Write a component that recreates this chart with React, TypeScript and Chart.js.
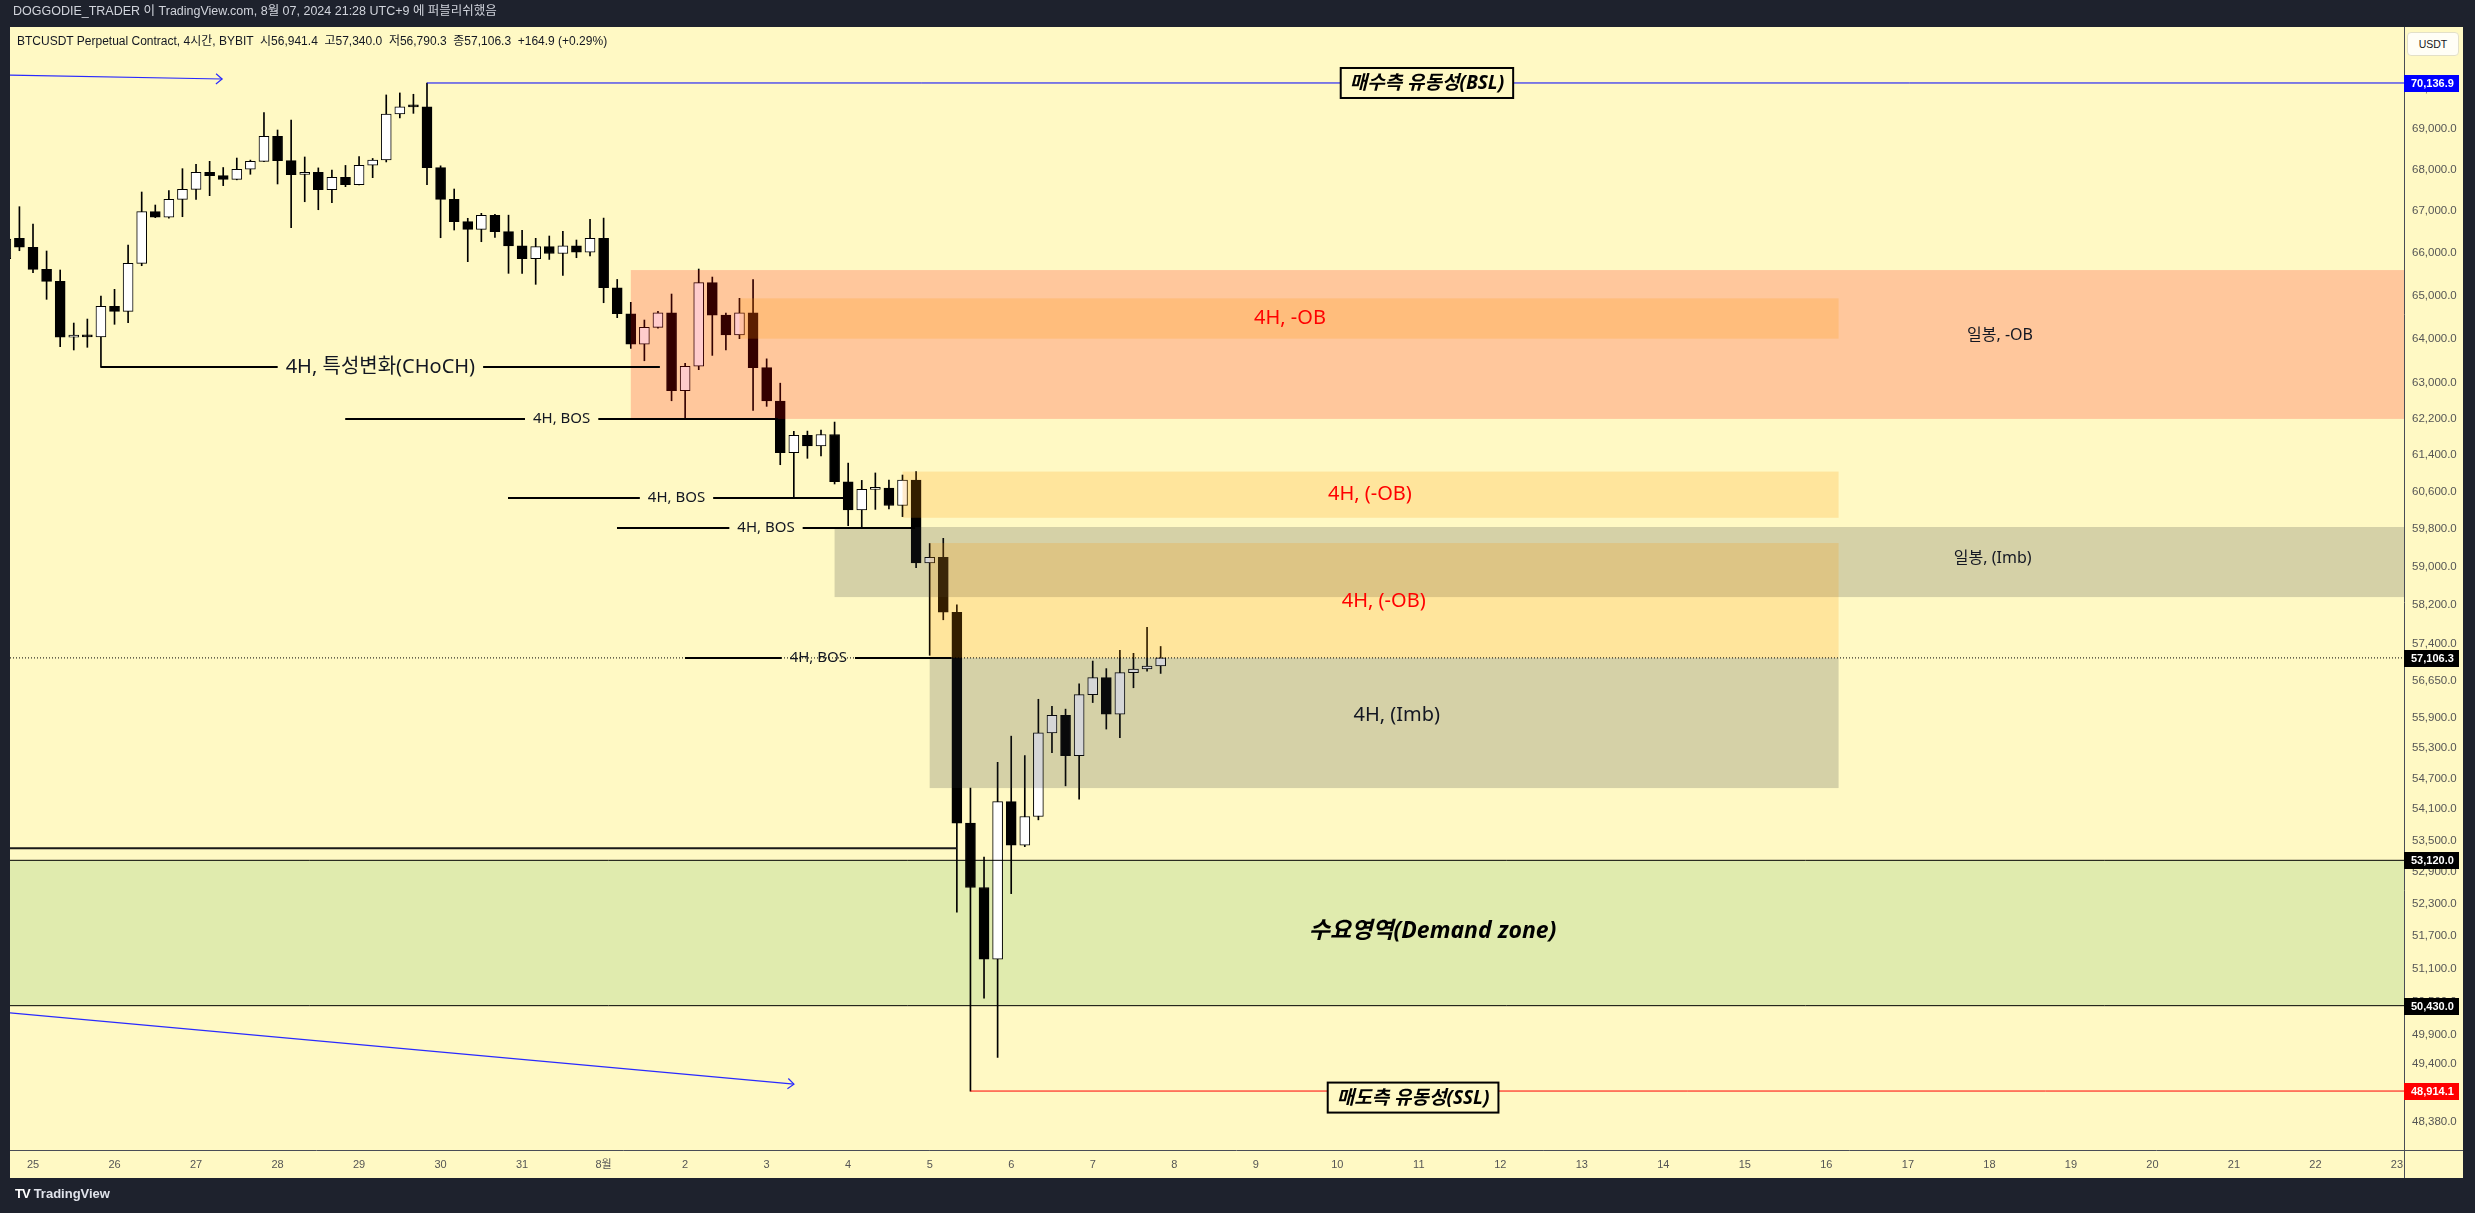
import React, { useEffect, useRef } from "react";
import { Chart, registerables } from "chart.js";

Chart.register(...registerables);

// ---------------- data ----------------
// time axis: days since 25 Jul 2024 00:00 (UTC+9); 4h candles, first one 24 Jul 16:00
const candleStartDay = -2 / 6;
const candleStepDay = 4 / 24;

const opens = [
  65870, 66348, 66136, 65617, 65336, 64042, 64090, 64050, 64755, 64639,
  65758, 66983, 66849, 67280, 67521, 67934, 67851, 67763, 68006, 68200,
  68813, 68216, 67880, 67930, 67512, 67811, 67632, 68104, 68233, 69364,
  69565, 69540, 68045, 67280, 66744, 66562, 66896, 66506, 66170, 65867,
  66153, 65990, 66170, 66020, 66348, 65186, 64584, 63882, 64271, 64607,
  62830, 63382, 65306, 64553, 64095, 64607, 63350, 62600, 61455, 61835,
  61605, 61855, 60818, 60210, 60652, 60680, 60305, 60855, 59080, 59195,
  58046, 53830, 52607, 51276, 54246, 53409, 53958, 55597, 55945, 55145,
  56361, 56705, 55969, 56806, 56880, 56941.4,
];
const highs = [
  66400, 67103, 66689, 66048, 65601, 64369, 64461, 64994, 65150, 66190,
  67456, 67143, 67488, 68021, 68128, 68200, 68049, 68280, 68230, 69396,
  68968, 69215, 68306, 68040, 67988, 68100, 68314, 68270, 69838, 69888,
  69855, 70136.9, 68090, 67528, 66825, 66944, 66920, 66900, 66539, 66348,
  66403, 66515, 66308, 66800, 66830, 65380, 64848, 64438, 64637, 65040,
  63450, 65624, 65436, 64600, 64940, 65376, 63550, 63000, 61925, 61930,
  61955, 62130, 61225, 60848, 61010, 60855, 60965, 61040, 59490, 59600,
  58200, 54510, 53180, 55015, 55531, 55147, 56268, 56127, 56070, 56579,
  57042, 56888, 57263, 57200, 57732, 57340,
];
const lows = [
  65800, 66055, 65538, 64917, 63827, 63752, 63813, 63358, 64340, 64376,
  65702, 66840, 66830, 66863, 67280, 67367, 67610, 67750, 67885, 68190,
  67650, 66601, 67222, 67030, 67198, 67585, 67630, 67802, 68185, 69267,
  69380, 67632, 66362, 66546, 65797, 66268, 66370, 65523, 65523, 65266,
  65850, 65476, 65890, 65930, 64838, 64492, 63788, 63507, 64250, 62605,
  62212, 63305, 63629, 63754, 64010, 62390, 62480, 61190, 60460, 61330,
  61380, 60770, 59870, 59820, 60220, 60230, 60065, 58980, 57160, 57890,
  52142, 48914.1, 50565, 49505, 52491, 53380, 53894, 55203, 54553, 54295,
  56202, 55672, 55500, 56500, 56836, 56790.3,
];
const closes = [
  66330, 66136, 65617, 65336, 64042, 64090, 64050, 64755, 64639, 65758,
  66983, 66849, 67280, 67521, 67934, 67851, 67763, 68006, 68200, 68813,
  68216, 67875, 67930, 67512, 67811, 67632, 68104, 68233, 69364, 69540,
  69540, 68045, 67280, 66744, 66562, 66896, 66506, 66170, 65867, 66153,
  65990, 66170, 66020, 66348, 65186, 64584, 63882, 64271, 64607, 62830,
  63382, 65306, 64553, 64095, 64607, 63350, 62600, 61455, 61835, 61605,
  61855, 60818, 60210, 60652, 60680, 60305, 60855, 59080, 59195, 58046,
  53830, 52607, 51276, 54246, 53409, 53958, 55597, 55945, 55145, 56361,
  56705, 55969, 56806, 56880, 56941.4, 57106.3,
];

// x axis ticks (days) and labels
const dayTickValues = [
  0, 1, 2, 3, 4, 5, 6, 7, 8, 9, 10, 11, 12, 13, 14, 15, 16, 17, 18, 19,
  20, 21, 22, 23, 24, 25, 26, 27, 28, 29,
];
const dayLabels = [
  "25", "26", "27", "28", "29", "30", "31", "8월", "2", "3", "4", "5", "6",
  "7", "8", "9", "10", "11", "12", "13", "14", "15", "16", "17", "18", "19",
  "20", "21", "22", "23",
];
const xRange = [-0.2822, 29.086];

// price axis (log)
const yRange = [47894, 71555];
const priceTicks = [
  70000, 69000, 68000, 67000, 66000, 65000, 64000, 63000, 62200, 61400,
  60600, 59800, 59000, 58200, 57400, 56650, 55900, 55300, 54700, 54100,
  53500, 52900, 52300, 51700, 51100, 50500, 49900, 49400, 48380,
];
const markerPrices = [70136.9, 57106.3, 53120, 50430, 48914.1];
const markerKinds = ["bsl", "last", "zone", "zone", "ssl"];

// zones: start/end day, top/bottom price
const zoneKinds = ["dailyOB", "ob4h", "obUpper", "dailyImb", "obLower", "imb4h"];
const zoneStart = [7.3333, 8.6667, 10.6667, 9.8333, 11.0, 11.0];
const zoneEnd = [40, 22.15, 22.15, 40, 22.15, 22.15];
const zoneTop = [65600, 64940, 61040, 59842, 59500, 57106];
const zoneBottom = [62200, 64010, 60040, 58362, 57106, 54510];
const zoneTexts = ["일봉, -OB", "4H, -OB", "4H, (-OB)", "일봉, (Imb)", "4H, (-OB)", "4H, (Imb)"];
const zoneTextDay = [24.13, 15.42, 16.4, 24.04, 16.57, 16.73];
const zoneTextPrice = [64093, 64486, 60553, 59182, 58280, 55952];

const demandZone = [53120, 50430];
const demandText = "수요영역(Demand zone)";
const demandTextAt = [17.17, 51795];

// liquidity lines
const bslLine = [4.8333, 70136.9];
const bslText = "매수측 유동성(BSL)";
const bslTextAt = [17.1, 70136.9];
const sslLine = [11.5, 48914.1];
const sslText = "매도측 유동성(SSL)";
const sslTextAt = [16.93, 48800];

// structure lines: start day, end day, price
const chochLine = [0.8333, 7.69, 63358];
const chochText = "4H, 특성변화(CHoCH)";
const bosStart = [3.83, 5.827, 7.164, 7.998];
const bosEnd = [9.14, 9.961, 10.82, 11.27];
const bosPrice = [62200, 60460, 59820, 57100];
const bosText = "4H, BOS";
const prevLowLine = [-1, 11.333, 53350];

// trend arrows: [day1, price1, day2, price2]
const arrowTop = [-0.5, 70340, 2.32, 70237];
const arrowBottom = [-0.5, 50328, 9.335, 49034];

// ---------------- styles ----------------
const CREAM = "#fff9c4";
const DARK = "#1e222d";
const AXIS_W = 59;
const XAXIS_H = 28;
const LABEL_FONT = "'Noto Sans', 'Noto Sans CJK KR', sans-serif";
const AXIS_FONT = "'Liberation Sans', 'Noto Sans CJK KR', sans-serif";
const zoneFill: Record<string, string> = {
  dailyOB: "rgba(255,0,0,0.2)",
  ob4h: "rgba(255,152,0,0.2)",
  obUpper: "rgba(255,152,0,0.2)",
  dailyImb: "rgba(45,52,55,0.2)",
  obLower: "rgba(255,152,0,0.2)",
  imb4h: "rgba(45,52,55,0.2)",
};
const zoneTextStyle: Record<string, { color: string; size: number }> = {
  dailyOB: { color: "#131722", size: 16 },
  ob4h: { color: "#ff0000", size: 20 },
  obUpper: { color: "#ff0000", size: 20 },
  dailyImb: { color: "#131722", size: 16 },
  obLower: { color: "#ff0000", size: 20 },
  imb4h: { color: "#131722", size: 20 },
};
const markerColor: Record<string, string> = {
  bsl: "#0000ff",
  last: "#000000",
  zone: "#000000",
  ssl: "#ff0000",
};

function fmtPrice(v: number) {
  return v.toLocaleString("en-US", { minimumFractionDigits: 1, maximumFractionDigits: 1 });
}

const overlayPlugin = {
  id: "tvOverlay",
  beforeDraw(chart: any) {
    const { ctx, chartArea: ca } = chart;
    ctx.save();
    ctx.fillStyle = DARK;
    ctx.fillRect(0, 0, chart.width, chart.height);
    ctx.fillStyle = CREAM;
    ctx.fillRect(ca.left, ca.top, ca.right + AXIS_W - ca.left, ca.bottom + XAXIS_H - ca.top);
    ctx.restore();
  },
  beforeDatasetsDraw(chart: any) {
    const { ctx, chartArea: ca, scales } = chart;
    ctx.save();
    ctx.beginPath();
    ctx.rect(ca.left, ca.top, ca.right - ca.left, ca.bottom - ca.top);
    ctx.clip();
    const y1 = scales.y.getPixelForValue(demandZone[0]);
    const y2 = scales.y.getPixelForValue(demandZone[1]);
    ctx.fillStyle = "rgba(100,180,90,0.2)";
    ctx.fillRect(ca.left, y1, ca.right - ca.left, y2 - y1);
    ctx.restore();
  },
  afterDatasetsDraw(chart: any) {
    const { ctx, chartArea: ca, scales } = chart;
    const X = (t: number) => scales.x.getPixelForValue(t);
    const Y = (p: number) => scales.y.getPixelForValue(p);
    ctx.save();
    ctx.beginPath();
    ctx.rect(ca.left, ca.top, ca.right - ca.left, ca.bottom - ca.top);
    ctx.clip();

    // zones
    zoneKinds.forEach((k, i) => {
      const x1 = X(zoneStart[i]);
      const x2 = Math.min(X(zoneEnd[i]), ca.right);
      const y1 = Y(zoneTop[i]);
      const y2 = Y(zoneBottom[i]);
      ctx.fillStyle = zoneFill[k];
      ctx.fillRect(x1, y1, x2 - x1, y2 - y1);
    });

    const seg = (x1: number, y1: number, x2: number, y2: number, color: string, w: number, dash: number[] = []) => {
      ctx.beginPath();
      ctx.strokeStyle = color;
      ctx.lineWidth = w;
      ctx.setLineDash(dash);
      ctx.moveTo(x1, y1);
      ctx.lineTo(x2, y2);
      ctx.stroke();
      ctx.setLineDash([]);
    };

    // demand borders
    seg(ca.left, Y(demandZone[0]), ca.right, Y(demandZone[0]), "#000", 1);
    seg(ca.left, Y(demandZone[1]), ca.right, Y(demandZone[1]), "#000", 1);

    // previous low line
    seg(X(prevLowLine[0]), Y(prevLowLine[2]), X(prevLowLine[1]), Y(prevLowLine[2]), "#1a1a1a", 2);

    // last price dotted line
    seg(ca.left, Y(markerPrices[1]), ca.right, Y(markerPrices[1]), "#000", 1, [1, 2]);

    // liquidity lines
    seg(X(bslLine[0]), Y(bslLine[1]), ca.right, Y(bslLine[1]), "#0000ff", 1);
    seg(X(sslLine[0]), Y(sslLine[1]), ca.right, Y(sslLine[1]), "#ff0000", 1);

    // arrows
    const arrow = (a: number[]) => {
      const x1 = X(a[0]), y1 = Y(a[1]), x2 = X(a[2]), y2 = Y(a[3]);
      seg(x1, y1, x2, y2, "#2a2aff", 1.2);
      const ang = Math.atan2(y2 - y1, x2 - x1);
      const L = 8;
      ctx.beginPath();
      ctx.strokeStyle = "#2a2aff";
      ctx.lineWidth = 1.2;
      ctx.moveTo(x2 - L * Math.cos(ang - 0.7), y2 - L * Math.sin(ang - 0.7));
      ctx.lineTo(x2, y2);
      ctx.lineTo(x2 - L * Math.cos(ang + 0.7), y2 - L * Math.sin(ang + 0.7));
      ctx.stroke();
    };
    arrow(arrowTop);
    arrow(arrowBottom);

    // lines with centered labels
    const labeledLine = (t1: number, t2: number, p: number, text: string, font: string) => {
      const x1 = X(t1), x2 = X(t2), y = Math.round(Y(p));
      ctx.font = font;
      const w = ctx.measureText(text).width;
      const cx = (x1 + x2) / 2;
      const gap = 8;
      ctx.beginPath();
      ctx.strokeStyle = "#000";
      ctx.lineWidth = 2;
      ctx.moveTo(x1, y);
      ctx.lineTo(cx - w / 2 - gap, y);
      ctx.moveTo(cx + w / 2 + gap, y);
      ctx.lineTo(x2, y);
      ctx.stroke();
      ctx.fillStyle = "#131722";
      ctx.textAlign = "center";
      ctx.textBaseline = "middle";
      ctx.fillText(text, cx, y);
    };
    labeledLine(chochLine[0], chochLine[1], chochLine[2], chochText, `20px ${LABEL_FONT}`);
    bosPrice.forEach((p, i) => labeledLine(bosStart[i], bosEnd[i], p, bosText, `15px ${LABEL_FONT}`));

    // zone texts
    ctx.textAlign = "center";
    ctx.textBaseline = "middle";
    zoneKinds.forEach((k, i) => {
      const st = zoneTextStyle[k];
      ctx.font = `${st.size}px ${LABEL_FONT}`;
      ctx.fillStyle = st.color;
      ctx.fillText(zoneTexts[i], X(zoneTextDay[i]), Y(zoneTextPrice[i]));
    });

    ctx.font = `italic bold 23px ${LABEL_FONT}`;
    ctx.fillStyle = "#000";
    ctx.fillText(demandText, X(demandTextAt[0]), Y(demandTextAt[1]));

    // boxed labels
    const boxLabel = (t: number, p: number, text: string) => {
      ctx.font = `italic bold 19px ${LABEL_FONT}`;
      const w = ctx.measureText(text).width;
      const cx = X(t), cy = Y(p);
      const bw = w + 18, bh = 30;
      ctx.fillStyle = CREAM;
      ctx.fillRect(cx - bw / 2, cy - bh / 2, bw, bh);
      ctx.strokeStyle = "#000";
      ctx.lineWidth = 2;
      ctx.strokeRect(cx - bw / 2, cy - bh / 2, bw, bh);
      ctx.fillStyle = "#000";
      ctx.textAlign = "center";
      ctx.textBaseline = "middle";
      ctx.fillText(text, cx, cy + 1);
    };
    boxLabel(bslTextAt[0], bslTextAt[1], bslText);
    boxLabel(sslTextAt[0], sslTextAt[1], sslText);

    ctx.restore();
  },
  afterDraw(chart: any) {
    const { ctx, chartArea: ca, scales } = chart;
    ctx.save();
    // axis separators
    ctx.strokeStyle = "#4a4d56";
    ctx.lineWidth = 1;
    ctx.beginPath();
    ctx.moveTo(ca.right + 0.5, ca.top);
    ctx.lineTo(ca.right + 0.5, ca.bottom + XAXIS_H);
    ctx.moveTo(ca.left, ca.bottom + 0.5);
    ctx.lineTo(ca.right + AXIS_W, ca.bottom + 0.5);
    ctx.stroke();
    // price tags
    ctx.font = `bold 11px ${AXIS_FONT}`;
    ctx.textAlign = "left";
    ctx.textBaseline = "middle";
    markerPrices.forEach((p, i) => {
      const y = scales.y.getPixelForValue(p);
      ctx.fillStyle = markerColor[markerKinds[i]];
      ctx.fillRect(ca.right, Math.round(y) - 8, 55, 17);
      ctx.fillStyle = "#ffffff";
      ctx.fillText(fmtPrice(p), ca.right + 7, Math.round(y) + 0.5);
    });
    ctx.restore();
  },
};

export default function App() {
  const ref = useRef<HTMLCanvasElement>(null);

  useEffect(() => {
    document.body.style.margin = "0";
    document.body.style.overflow = "hidden";
    const canvas = ref.current;
    if (!canvas) return;
    const times = opens.map((_, i) => candleStartDay + i * candleStepDay);
    const bodies = times.map((t, i) => ({ x: t, y: [opens[i], closes[i]] }));
    const wicks = times.map((t, i) => ({ x: t, y: [lows[i], highs[i]] }));
    const bodyColors = opens.map((o, i) => (closes[i] >= o ? "#ffffff" : "#000000"));

    const chart = new Chart(canvas, {
      type: "bar",
      data: {
        datasets: [
          {
            label: "body",
            data: bodies as any,
            backgroundColor: bodyColors,
            borderColor: "#000000",
            borderWidth: 1,
            borderSkipped: false,
            barThickness: 10,
            minBarLength: 2,
            grouped: false,
            order: 1,
          } as any,
          {
            label: "wick",
            data: wicks as any,
            backgroundColor: "#000000",
            borderWidth: 0,
            barThickness: 1,
            grouped: false,
            order: 2,
          } as any,
        ],
      },
      options: {
        animation: false,
        responsive: false,
        maintainAspectRatio: false,
        devicePixelRatio: 1,
        layout: { padding: { left: 10, top: 27, right: 12, bottom: 35 } },
        plugins: { legend: { display: false }, tooltip: { enabled: false } },
        events: [],
        scales: {
          x: {
            type: "linear",
            min: xRange[0],
            max: xRange[1],
            bounds: "data",
            offset: false,
            grid: { display: false, drawTicks: false },
            border: { display: false },
            ticks: {
              autoSkip: false,
              maxRotation: 0,
              padding: 8,
              color: "#555555",
              font: { family: AXIS_FONT, size: 11 },
              callback: (_v: any, i: number) => dayLabels[i],
            },
            afterBuildTicks: (s: any) => {
              s.ticks = dayTickValues.map((v) => ({ value: v }));
            },
            afterFit: (s: any) => {
              s.height = XAXIS_H;
            },
          } as any,
          y: {
            type: "logarithmic",
            position: "right",
            min: yRange[0],
            max: yRange[1],
            bounds: "data",
            grid: { display: false, drawTicks: false },
            border: { display: false },
            ticks: {
              autoSkip: false,
              padding: 8,
              color: "#555555",
              font: { family: AXIS_FONT, size: 11.5 },
              callback: (v: any) => fmtPrice(Number(v)),
            },
            afterBuildTicks: (s: any) => {
              s.ticks = priceTicks.map((v) => ({ value: v }));
            },
            afterFit: (s: any) => {
              s.width = AXIS_W;
            },
          } as any,
        },
      },
      plugins: [overlayPlugin],
    });
    return () => chart.destroy();
  }, []);

  const textFont = "'Liberation Sans', 'Noto Sans CJK KR', sans-serif";
  return (
    <div
      style={{
        position: "absolute",
        left: 0,
        top: 0,
        width: 2475,
        height: 1213,
        background: DARK,
        overflow: "hidden",
      }}
    >
      <canvas
        ref={ref}
        width={2475}
        height={1213}
        style={{ position: "absolute", left: 0, top: 0, width: 2475, height: 1213 }}
      />
      <div
        style={{
          position: "absolute",
          left: 13,
          top: 2,
          lineHeight: "18px",
          fontSize: 12.5,
          color: "#d1d4dc",
          fontFamily: textFont,
          whiteSpace: "pre",
        }}
      >
        DOGGODIE_TRADER 이 TradingView.com, 8월 07, 2024 21:28 UTC+9 에 퍼블리쉬했음
      </div>
      <div
        style={{
          position: "absolute",
          left: 17,
          top: 32,
          lineHeight: "18px",
          fontSize: 12,
          color: "#131722",
          fontFamily: textFont,
          whiteSpace: "pre",
        }}
      >
        {"BTCUSDT Perpetual Contract, 4시간, BYBIT  시56,941.4  고57,340.0  저56,790.3  종57,106.3  +164.9 (+0.29%)"}
      </div>
      <div
        style={{
          position: "absolute",
          left: 2407,
          top: 32,
          width: 52,
          height: 24,
          boxSizing: "border-box",
          background: "#fffef6",
          border: "1px solid #e3e0c8",
          borderRadius: 4,
          fontSize: 10.5,
          lineHeight: "22px",
          textAlign: "center",
          color: "#131722",
          fontFamily: textFont,
        }}
      >
        USDT
      </div>
      <div
        style={{
          position: "absolute",
          left: 15,
          top: 1184,
          lineHeight: "18px",
          color: "#ffffff",
          fontFamily: textFont,
          whiteSpace: "pre",
        }}
      >
        <span style={{ fontSize: 13, fontWeight: 900, letterSpacing: -1 }}>TV</span>
        <span style={{ fontSize: 13, fontWeight: 600, marginLeft: 4, color: "#e0e3eb" }}>TradingView</span>
      </div>
    </div>
  );
}
